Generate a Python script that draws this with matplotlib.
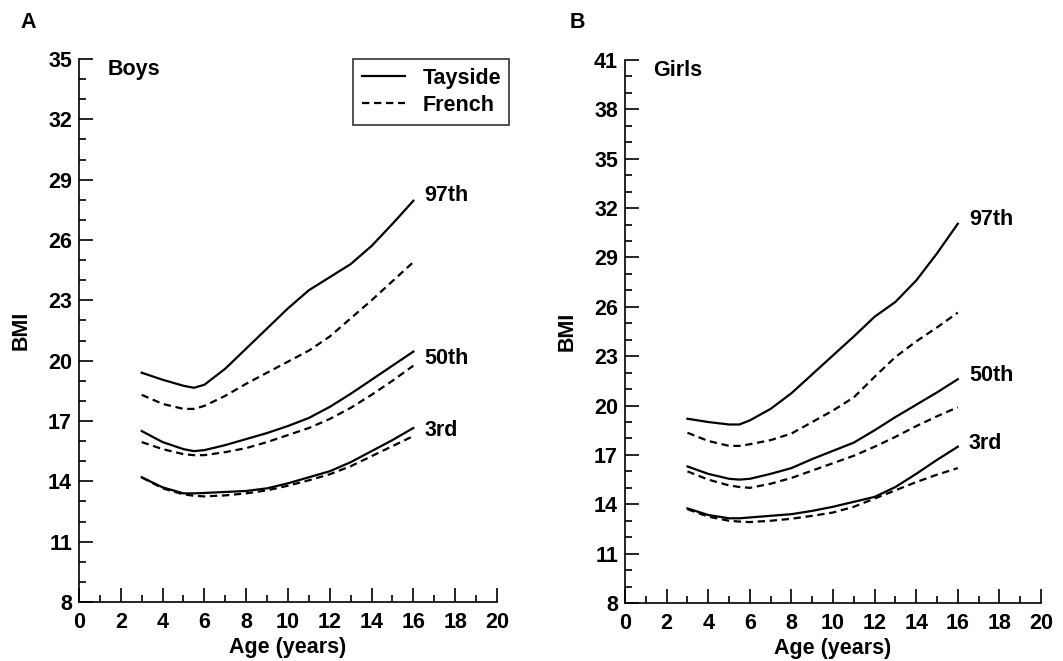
''' BMI centile curves, Tayside vs French references (boys and girls) '''

import matplotlib
matplotlib.use('Agg')
import matplotlib.pyplot as plt
from matplotlib.ticker import MultipleLocator

plt.rcParams['font.family'] = ['Liberation Sans', 'DejaVu Sans']
plt.rcParams['font.weight'] = 'bold'
plt.rcParams['axes.labelweight'] = 'bold'

# ages sampled along every curve
ages = [3, 4, 5, 5.5, 6, 7, 8, 9, 10, 11, 12, 13, 14, 15, 16]
centiles = ['97th', '50th', '3rd']

# boys
boys_tayside = {
    '97th': [19.4, 19.05, 18.75, 18.65, 18.8, 19.6, 20.6, 21.6, 22.6, 23.5, 24.15, 24.8, 25.7, 26.8, 27.95],
    '50th': [16.5, 15.95, 15.6, 15.5, 15.55, 15.8, 16.1, 16.4, 16.75, 17.15, 17.7, 18.35, 19.05, 19.75, 20.45],
    '3rd':  [14.2, 13.7, 13.4, 13.4, 13.42, 13.47, 13.52, 13.65, 13.9, 14.2, 14.5, 14.95, 15.5, 16.05, 16.65],
}
boys_french = {
    '97th': [18.3, 17.85, 17.6, 17.6, 17.75, 18.25, 18.85, 19.4, 19.95, 20.5, 21.2, 22.1, 23.0, 23.95, 24.9],
    '50th': [15.95, 15.6, 15.35, 15.3, 15.3, 15.45, 15.65, 15.95, 16.3, 16.65, 17.1, 17.65, 18.3, 19.0, 19.75],
    '3rd':  [14.2, 13.65, 13.35, 13.28, 13.25, 13.3, 13.4, 13.55, 13.78, 14.05, 14.35, 14.75, 15.25, 15.75, 16.25],
}

# girls
girls_tayside = {
    '97th': [19.2, 19.0, 18.85, 18.85, 19.1, 19.8, 20.75, 21.9, 23.05, 24.2, 25.4, 26.3, 27.6, 29.25, 31.05],
    '50th': [16.3, 15.85, 15.55, 15.5, 15.55, 15.85, 16.2, 16.75, 17.25, 17.75, 18.5, 19.3, 20.05, 20.8, 21.6],
    '3rd':  [13.75, 13.35, 13.15, 13.15, 13.2, 13.3, 13.4, 13.6, 13.85, 14.15, 14.45, 15.05, 15.85, 16.7, 17.5],
}
girls_french = {
    '97th': [18.35, 17.85, 17.55, 17.55, 17.65, 17.9, 18.3, 19.0, 19.7, 20.5, 21.75, 22.95, 23.9, 24.75, 25.65],
    '50th': [16.0, 15.5, 15.15, 15.05, 15.0, 15.25, 15.6, 16.05, 16.5, 16.95, 17.5, 18.1, 18.75, 19.35, 19.9],
    '3rd':  [13.7, 13.25, 13.0, 12.95, 12.92, 13.0, 13.12, 13.3, 13.5, 13.85, 14.35, 14.85, 15.35, 15.8, 16.2],
}

FS = 15.5
LW = 1.6
DASH = (3.3, 2.1)


def draw_panel(ax, tayside, french, ymax, sex, label_offsets, legend=False):
    for c in centiles:
        ax.plot(ages, tayside[c], color='black', lw=LW,
                label='Tayside' if c == '97th' else None)
        ax.plot(ages, french[c], color='black', lw=LW, dashes=DASH,
                label='French' if c == '97th' else None)
        ax.annotate(c, xy=(ages[-1], tayside[c][-1]),
                    xytext=(8, label_offsets[c]), textcoords='offset points',
                    ha='left', va='center', fontsize=FS)

    ax.set_xlim(0, 20)
    ax.set_ylim(8, ymax)
    ax.xaxis.set_major_locator(MultipleLocator(2))
    ax.xaxis.set_minor_locator(MultipleLocator(1))
    ax.set_yticks(range(8, ymax + 1, 3))
    ax.yaxis.set_minor_locator(MultipleLocator(1))
    ax.tick_params(which='both', direction='in', width=1.2, labelsize=FS)
    ax.tick_params(which='major', length=10)
    ax.tick_params(which='minor', length=5)
    ax.tick_params(axis='x', pad=7)
    ax.tick_params(axis='y', pad=5)
    for s in ['top', 'right']:
        ax.spines[s].set_visible(False)
    for s in ['left', 'bottom']:
        ax.spines[s].set_linewidth(1.2)
    ax.set_xlabel('Age (years)', fontsize=FS, labelpad=3)
    ax.set_ylabel('BMI', fontsize=FS, labelpad=12)
    ax.text(0.068, 0.98, sex, transform=ax.transAxes, fontsize=FS,
            ha='left', va='center')

    if legend:
        leg = ax.legend(loc='upper right', bbox_to_anchor=(1.03, 1.0),
                        borderaxespad=0, fontsize=FS, frameon=True,
                        fancybox=False, handlelength=2.0, handletextpad=0.8,
                        labelspacing=0.3, borderpad=0.4)
        leg.get_frame().set_edgecolor('black')
        leg.get_frame().set_linewidth(1.2)


fig = plt.figure(figsize=(10.63, 6.61), dpi=100)
axA = fig.add_axes([0.0743, 0.0893, 0.3932, 0.8215])
axB = fig.add_axes([0.588, 0.0877, 0.3913, 0.8215])

draw_panel(axA, boys_tayside, boys_french, 35, 'Boys',
           {'97th': 4, '50th': -5, '3rd': -2}, legend=True)
draw_panel(axB, girls_tayside, girls_french, 41, 'Girls',
           {'97th': 3, '50th': 3, '3rd': 2})

fig.text(28 / 1063, 1 - 22 / 661, 'A', fontsize=FS, ha='center', va='center')
fig.text(577 / 1063, 1 - 22 / 661, 'B', fontsize=FS, ha='center', va='center')

fig.savefig('out.png', dpi=100)
